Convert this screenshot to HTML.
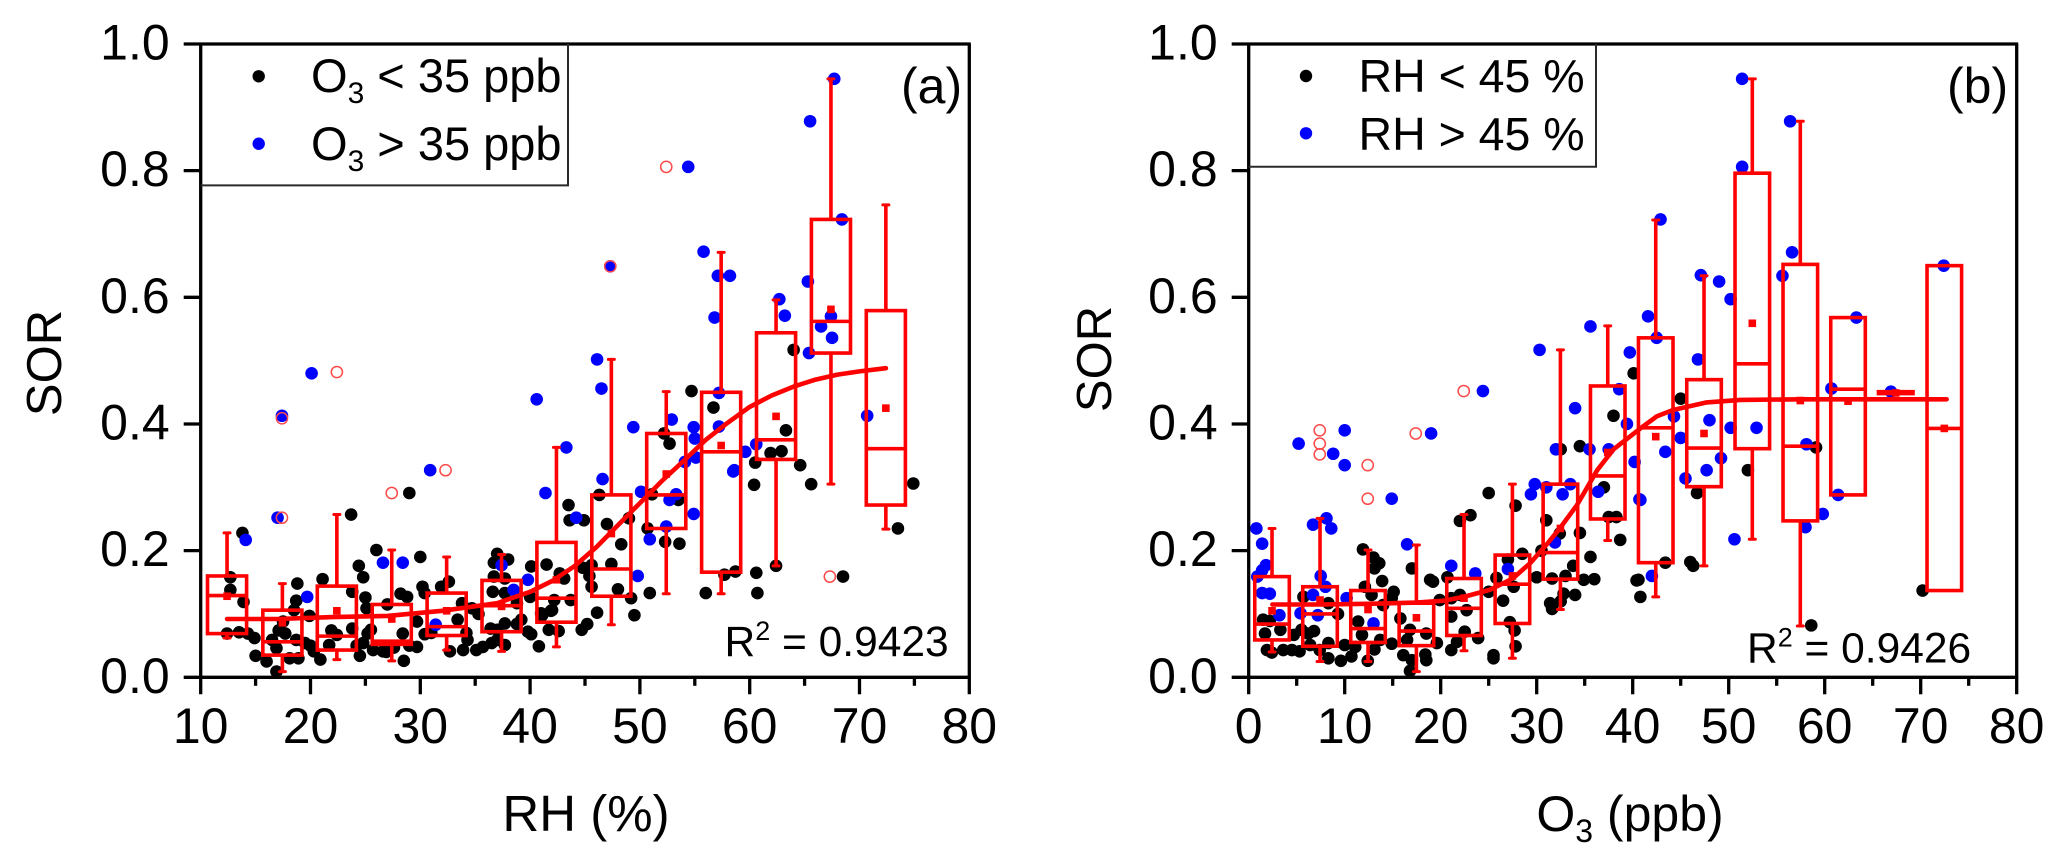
<!DOCTYPE html>
<html lang="en">
<head>
<meta charset="utf-8">
<title>SOR versus RH and O3</title>
<style>
html,body{margin:0;padding:0;background:#fff;}
svg{display:block;font-family:"Liberation Sans",Arial,sans-serif;fill:#000;}
</style>
</head>
<body>
<svg id="chart" xmlns="http://www.w3.org/2000/svg" width="2067" height="868" viewBox="0 0 2067 868">
  <rect x="0" y="0" width="2067" height="868" fill="#fff"/>
  <g id="panel-a"></g>
  <g id="panel-b"></g>

  <g>
    <path d="M200.7 185.4H568V44" fill="none" stroke="#2a2a2a" stroke-width="2"/>
    <circle cx="258.7" cy="76.3" r="6.2" fill="#000"/>
    <circle cx="258.7" cy="143.7" r="6.2" fill="#0000ff"/>
    <text x="311" y="92" font-size="47">O<tspan dy="11" font-size="30">3</tspan><tspan dy="-11"> &lt; 35 ppb</tspan></text>
    <text x="311" y="160" font-size="47">O<tspan dy="11" font-size="30">3</tspan><tspan dy="-11"> &gt; 35 ppb</tspan></text>
  </g>
  <text x="901" y="103" font-size="50">(a)</text>
  <text x="724.5" y="656" font-size="42.5">R<tspan dy="-16" font-size="27">2</tspan><tspan dy="16"> = 0.9423</tspan></text>
  <text transform="translate(61 363) rotate(-90)" text-anchor="middle" font-size="49">SOR</text>
  <text x="586" y="831" text-anchor="middle" font-size="51">RH (%)</text>

  <g>
    <path d="M1248.7 166.7H1596V44" fill="none" stroke="#2a2a2a" stroke-width="2"/>
    <circle cx="1306" cy="76" r="6.2" fill="#000"/>
    <circle cx="1306" cy="133.3" r="6.2" fill="#0000ff"/>
    <text x="1358.5" y="92" font-size="46.5">RH &lt; 45 %</text>
    <text x="1358.5" y="150" font-size="46.5">RH &gt; 45 %</text>
  </g>
  <text x="1947" y="103" font-size="50">(b)</text>
  <text x="1747" y="662.7" font-size="42.5">R<tspan dy="-16" font-size="27">2</tspan><tspan dy="16"> = 0.9426</tspan></text>
  <text transform="translate(1111 359) rotate(-90)" text-anchor="middle" font-size="49">SOR</text>
  <text x="1630" y="831" text-anchor="middle" font-size="50">O<tspan dy="11" font-size="32">3</tspan><tspan dy="-11"> (ppb)</tspan></text>
</svg>

<script>
// ---------- shared axis labels ----------
const yTickValues = [0, 0.2, 0.4, 0.6, 0.8, 1.0];
const yTickLabels = ['0.0', '0.2', '0.4', '0.6', '0.8', '1.0'];
const xTickValuesA = [10, 20, 30, 40, 50, 60, 70, 80];
const xMinorValuesA = [15, 25, 35, 45, 55, 65, 75];
const xTickValuesB = [0, 10, 20, 30, 40, 50, 60, 70, 80];
const xMinorValuesB = [5, 15, 25, 35, 45, 55, 65, 75];

// ---------- panel (a): SOR vs RH ----------
const aLowPoints = [[13.8,.228],[12.7,.158],[12.7,.138],[13.9,.119],[12.4,.069],[13.5,.071],[14.3,.069],[14.9,.062],[15.0,.034],[16.0,.025],[16.5,.059],[16.9,.046],[16.9,.009],[17.1,.074],[17.7,.069],[17.5,.088],[18.5,.106],[18.7,.121],[18.8,.148],[18.7,.059],[19.5,.054],[18.9,.03],[18.1,.03],[19.9,.097],[20.3,.041],[20.9,.028],[21.1,.155],[21.9,.074],[22.4,.067],[21.7,.051],[23.8,.077],[23.8,.135],[23.7,.257],[24.4,.176],[24.8,.158],[25.0,.126],[25.1,.109],[26.0,.201],[25.2,.069],[24.8,.054],[24.5,.034],[25.7,.043],[26.6,.041],[27.0,.115],[28.2,.132],[28.8,.127],[28.5,.026],[28.4,.069],[29.7,.048],[30.2,.143],[30.0,.19],[30.4,.133],[29.7,.088],[30.4,.068],[31.9,.143],[32.6,.151],[32.7,.041],[33.9,.043],[34.3,.059],[34.7,.109],[33.8,.117],[33.4,.091],[35.1,.043],[35.7,.048],[36.5,.054],[37.0,.059],[37.7,.051],[36.4,.077],[37.0,.075],[37.7,.085],[38.8,.084],[39.2,.091],[36.6,.135],[37.7,.133],[36.7,.159],[37.7,.156],[36.7,.181],[37.0,.195],[38.0,.186],[38.8,.117],[40.0,.127],[39.8,.072],[40.1,.068],[40.8,.049],[40.1,.175],[41.5,.178],[41.7,.075],[41.1,.098],[41.9,.105],[20.0,.05],[24.2,.05],[26.9,.04],[25.5,.075],[27.6,.047],[29.0,.05],[31.0,.07],[34.2,.07],[35.3,.1],[43.5,.272],[43.6,.248],[44.9,.248],[42.7,.164],[43.1,.156],[42.2,.122],[43.7,.122],[41.0,.101],[42.0,.106],[42.6,.073],[44.7,.075],[45.2,.084],[46.1,.102],[44.8,.173],[45.6,.177],[45.4,.16],[45.6,.143],[47.4,.179],[48.0,.139],[49.2,.125],[49.5,.098],[50.9,.133],[47.0,.242],[49.0,.251],[48.3,.21],[46.3,.288],[51.1,.289],[53.5,.28],[50.7,.235],[52.3,.214],[53.6,.211],[56.0,.133],[57.7,.162],[58.7,.167],[60.6,.165],[60.7,.133],[62.4,.176],[60.4,.304],[65.6,.305],[68.5,.159],[73.5,.235],[74.9,.306],[54.7,.452],[56.7,.426],[52.2,.385],[52.7,.369],[64.0,.517],[63.3,.39],[61.9,.354],[62.9,.357],[60.5,.339],[64.6,.335],[29.0,.291]];
const aHighPoints = [[14.1,.217],[17.0,.252],[19.7,.127],[26.6,.181],[28.4,.181],[31.4,.083],[37.4,.177],[38.5,.138],[39.8,.154],[41.4,.291],[44.2,.252],[50.1,.293],[52.7,.28],[53.3,.289],[52.4,.238],[54.9,.258],[50.9,.218],[49.8,.16],[58.5,.325],[46.1,.502],[46.5,.456],[40.6,.439],[43.3,.363],[49.4,.395],[46.6,.313],[52.9,.407],[54.9,.395],[55.0,.377],[57.2,.396],[57.2,.449],[54.1,.34],[55.1,.347],[59.6,.356],[58.6,.327],[56.8,.568],[54.4,.806],[55.8,.672],[57.1,.634],[58.2,.634],[47.3,.649],[62.7,.597],[63.2,.571],[65.3,.625],[67.4,.57],[68.4,.723],[66.5,.554],[67.5,.536],[65.4,.512],[60.6,.368],[70.7,.413],[67.7,.945],[65.5,.878],[20.1,.48],[17.4,.413],[30.9,.327]];
const aOutlierPoints = [[22.4,.482],[17.4,.409],[17.4,.252],[27.4,.291],[32.3,.327],[52.4,.806],[47.3,.649],[67.3,.159]];
const aBoxX = [12.4, 17.44, 22.4, 27.4, 32.4, 37.4, 42.4, 47.4, 52.4, 57.4, 62.4, 67.4, 72.4];
const aBoxQ1 = [.069, .035, .043, .052, .066, .072, .087, .128, .235, .166, .344, .512, .272];
const aBoxMedian = [.129, .056, .065, .057, .08, .113, .125, .171, .288, .356, .375, .562, .361];
const aBoxQ3 = [.16, .106, .144, .115, .133, .153, .213, .288, .385, .45, .544, .723, .579];
const aBoxMean = [.128, .086, .105, .092, .105, .112, .154, .227, .321, .366, .412, .581, .425];
const aWhiskerLow = [.062, .009, .028, .026, .043, .041, .048, .083, .132, .132, .176, .305, .234];
const aWhiskerHigh = [.228, .148, .257, .201, .19, .194, .363, .502, .451, .671, .596, .945, .746];
const aFitX = [12.4, 17, 22, 27, 32, 37, 40, 42, 44, 46, 48, 50, 52, 54, 56, 58, 60, 62, 64, 66, 68, 70, 72.4];
const aFitY = [.092, .092, .095, .097, .105, .117, .135, .152, .175, .205, .24, .275, .31, .342, .375, .402, .427, .445, .459, .47, .478, .483, .488];

// ---------- panel (b): SOR vs O3 ----------
const bLowPoints = [[1.5,.091],[2.2,.089],[1.7,.069],[3.3,.075],[1.9,.043],[2.4,.039],[3.6,.043],[4.5,.043],[5.3,.041],[4.7,.067],[5.5,.075],[6.2,.069],[6.8,.073],[6.4,.051],[5.7,.127],[8.3,.117],[9.3,.1],[8.3,.054],[10.0,.051],[11.1,.048],[10.7,.033],[9.6,.026],[8.3,.03],[7.4,.043],[11.4,.088],[11.8,.067],[12.1,.143],[12.8,.13],[13.0,.189],[13.6,.18],[13.1,.172],[11.9,.202],[13.9,.152],[15.1,.135],[14.0,.114],[14.9,.125],[13.7,.059],[13.1,.044],[12.4,.026],[14.9,.053],[17.0,.172],[15.8,.093],[16.8,.075],[18.5,.069],[16.5,.059],[16.1,.035],[17.0,.027],[18.5,.027],[19.6,.054],[18.4,.036],[16.8,.01],[18.9,.154],[19.2,.151],[20.7,.158],[19.9,.122],[21.1,.125],[22.0,.13],[21.1,.096],[22.7,.106],[21.7,.056],[21.1,.043],[22.5,.072],[23.9,.062],[25.0,.135],[25.8,.157],[27.0,.186],[27.6,.143],[26.5,.121],[27.2,.087],[27.7,.074],[27.8,.049],[25.5,.035],[25.5,.03],[22.0,.247],[23.1,.256],[25.0,.291],[27.8,.271],[28.5,.195],[31.0,.248],[32.4,.227],[34.5,.228],[30.0,.158],[31.6,.156],[33.8,.176],[34.9,.154],[32.8,.132],[31.4,.117],[31.6,.108],[38.7,.217],[37.5,.253],[38.3,.253],[40.4,.153],[40.8,.127],[45.0,.44],[59.1,.363],[52.0,.327],[46.7,.291],[43.4,.181],[46.0,.182],[46.3,.176],[70.2,.137],[58.6,.082],[40.6,.154],[40.1,.48],[38.0,.413],[34.5,.365],[32.5,.36],[37.0,.3],[36.0,.155],[35.6,.19],[33.0,.16],[34.0,.13],[30.5,.2],[32.5,.12]];
const bHighPoints = [[.8,.235],[1.4,.211],[1.8,.177],[1.4,.169],[.9,.159],[1.4,.133],[2.2,.132],[3.2,.098],[6.7,.241],[8.1,.251],[8.6,.235],[7.5,.16],[8.0,.143],[6.7,.13],[7.2,.098],[5.4,.101],[10.2,.125],[13.0,.085],[14.9,.282],[16.5,.21],[21.1,.176],[23.6,.164],[27.0,.171],[29.4,.289],[29.8,.305],[31.9,.213],[32.7,.289],[33.5,.305],[36.4,.293],[40.7,.281],[42.0,.16],[5.2,.369],[10.0,.39],[8.8,.353],[10.0,.335],[19.0,.385],[24.4,.452],[30.3,.517],[42.9,.723],[41.6,.57],[42.5,.536],[47.1,.635],[49.0,.625],[50.2,.597],[46.8,.502],[56.6,.671],[55.6,.634],[63.3,.568],[60.7,.456],[66.9,.451],[72.4,.65],[44.3,.412],[48.0,.406],[50.2,.394],[52.9,.394],[45.0,.378],[43.4,.356],[49.2,.346],[47.7,.327],[45.5,.314],[40.8,.28],[58.1,.368],[61.4,.288],[59.8,.258],[58.0,.237],[50.6,.218],[51.4,.945],[51.4,.806],[56.4,.878],[35.6,.554],[34.0,.425],[39.7,.513],[38.6,.455],[39.4,.4],[35.5,.36],[32.0,.36],[31.0,.3],[37.5,.36],[40.2,.34]];
const bOutlierPoints = [[7.4,.39],[7.4,.369],[7.4,.352],[12.4,.335],[12.4,.282],[17.4,.385],[22.4,.452]];
const bBoxX = [2.43, 7.43, 12.43, 17.47, 22.43, 27.47, 32.47, 37.4, 42.4, 47.43, 52.46, 57.46, 62.43, 67.4, 72.46];
const bBoxQ1 = [.059, .049, .055, .05, .066, .085, .155, .25, .181, .301, .361, .247, .288, .448, .137];
const bBoxMedian = [.084, .1, .077, .073, .109, .147, .197, .318, .394, .362, .495, .365, .455, .45, .393];
const bBoxQ3 = [.159, .143, .137, .117, .156, .193, .305, .46, .536, .47, .796, .652, .568, .451, .65];
const bBoxMean = [.105, .122, .107, .094, .125, .16, .235, .355, .38, .385, .559, .437, .436, .449, .393];
const bWhiskerLow = [.04, .025, .025, .009, .042, .03, .107, .216, .127, .176, .218, .081, null, null, null];
const bWhiskerHigh = [.235, .251, .201, .209, .257, .305, .517, .555, .722, .634, .945, .878, null, null, null];
const bFitX = [2.47, 7.4, 12.4, 17.5, 20.3, 22.4, 25.1, 27.5, 29.3, 31, 32.4, 34.2, 36.3, 38, 40.8, 42.5, 44.2, 47.7, 51.2, 57.4, 65, 72.7];
const bFitY = [.115, .115, .116, .118, .121, .127, .138, .156, .18, .209, .235, .272, .327, .36, .393, .412, .422, .434, .438, .439, .439, .439];

// ---------- axis functions ----------
const yScale = v => 677.3 - v * 633.3;
const xScaleA = v => 200.7 + (v - 10) * 10.98;
const xScaleB = v => 1248.7 + v * 9.6;

const SVG_NS = 'http://www.w3.org/2000/svg';
const RED = '#ff0000';
const BOX_STROKE = 3.6;
const AXIS_STROKE = 3.3;
const POINT_RADIUS = 6.3;

function make(parent, tag, attrs) {
  const el = document.createElementNS(SVG_NS, tag);
  for (const k in attrs) el.setAttribute(k, attrs[k]);
  parent.appendChild(el);
  return el;
}

function drawLine(parent, x1, y1, x2, y2, color, width, label, cap) {
  const el = make(parent, 'line', {x1, y1, x2, y2, stroke: color, 'stroke-width': width, 'stroke-linecap': cap || 'butt'});
  
  
  return el;
}

function drawAxes(parent, xScale, left, right, majors, minors, tag) {
  const top = yScale(1);
  const base = yScale(0);
  drawLine(parent, left, top, left, base + 17, '#000', AXIS_STROKE, 'y-axis-line-' + tag);
  drawLine(parent, left - 17, base, right + 1.5, base, '#000', AXIS_STROKE, 'x-axis-line-' + tag);
  drawLine(parent, left - 17, top, right + 1.5, top, '#000', AXIS_STROKE, 'top-border-' + tag);
  drawLine(parent, right, top, right, base + 17, '#000', AXIS_STROKE, 'right-border-' + tag);
  yTickValues.forEach((v, i) => {
    if (v > 0 && v < 1) drawLine(parent, left - 17, yScale(v), left, yScale(v), '#000', AXIS_STROKE, 'y-tick-' + tag);
    const t = make(parent, 'text', {x: left - 31, y: yScale(v) + 15.5, 'text-anchor': 'end', 'font-size': 50});
    
    
    t.textContent = yTickLabels[i];
  });
  majors.forEach(v => {
    if (xScale(v) !== left && xScale(v) !== right) drawLine(parent, xScale(v), base, xScale(v), base + 17, '#000', AXIS_STROKE, 'x-tick-' + tag);
    const t = make(parent, 'text', {x: xScale(v), y: 743, 'text-anchor': 'middle', 'font-size': 50});
    
    
    t.textContent = String(v);
  });
  minors.forEach(v => {
    drawLine(parent, xScale(v), base, xScale(v), base + 8.5, '#000', AXIS_STROKE, 'x-minor-tick-' + tag);
  });
}

function drawScatter(parent, points, xScale, color, label) {
  points.forEach(p => {
    const c = make(parent, 'circle', {cx: xScale(p[0]), cy: yScale(p[1]), r: POINT_RADIUS, fill: color});
    
    
  });
}

function drawOutliers(parent, points, xScale, label) {
  points.forEach(p => {
    const c = make(parent, 'circle', {cx: xScale(p[0]), cy: yScale(p[1]), r: 5.6, fill: 'none', stroke: '#ff4a4a', 'stroke-width': 1.5});
    
    
  });
}

function drawBoxes(parent, xScale, xs, q1, med, q3, mean, low, high, halfWidth, tag) {
  xs.forEach((x, i) => {
    const cx = xScale(x);
    const l = xScale(x - halfWidth);
    const r = xScale(x + halfWidth);
    const g = make(parent, 'g', {});
    
    
    if (high[i] !== null) {
      drawLine(g, cx, yScale(q3[i]), cx, yScale(high[i]), RED, BOX_STROKE, 'whisker-high');
      drawLine(g, cx - 3, yScale(high[i]), cx + 3, yScale(high[i]), RED, 3, 'whisker-cap-high', 'round');
    }
    if (low[i] !== null) {
      drawLine(g, cx, yScale(q1[i]), cx, yScale(low[i]), RED, BOX_STROKE, 'whisker-low');
      drawLine(g, cx - 3, yScale(low[i]), cx + 3, yScale(low[i]), RED, 3, 'whisker-cap-low', 'round');
    }
    const rect = make(g, 'rect', {x: l, y: yScale(q3[i]), width: r - l, height: yScale(q1[i]) - yScale(q3[i]), fill: 'none', stroke: RED, 'stroke-width': BOX_STROKE});
    
    
    drawLine(g, l, yScale(med[i]), r, yScale(med[i]), RED, BOX_STROKE, 'box-median');
    const m = make(g, 'rect', {x: cx - 3.8, y: yScale(mean[i]) - 3.8, width: 7.6, height: 7.6, fill: RED});
    
    
  });
}

function drawFit(parent, xScale, xs, ys, label) {
  const pts = xs.map((x, i) => xScale(x).toFixed(1) + ',' + yScale(ys[i]).toFixed(1)).join(' ');
  const line = make(parent, 'polyline', {points: pts, fill: 'none', stroke: RED, 'stroke-width': 4.6, 'stroke-linecap': 'round', 'stroke-linejoin': 'round'});
  
  
}

const panelA = document.getElementById('panel-a');
const panelB = document.getElementById('panel-b');

drawScatter(panelA, aLowPoints, xScaleA, '#000', 'point-o3-low');
drawScatter(panelA, aHighPoints, xScaleA, '#0000ff', 'point-o3-high');
drawOutliers(panelA, aOutlierPoints, xScaleA, 'outlier-a');
drawBoxes(panelA, xScaleA, aBoxX, aBoxQ1, aBoxMedian, aBoxQ3, aBoxMean, aWhiskerLow, aWhiskerHigh, 1.78, 'a');
drawFit(panelA, xScaleA, aFitX, aFitY, 'fit-curve-a');
drawAxes(panelA, xScaleA, xScaleA(10), xScaleA(80), xTickValuesA, xMinorValuesA, 'a');

drawScatter(panelB, bLowPoints, xScaleB, '#000', 'point-rh-low');
drawScatter(panelB, bHighPoints, xScaleB, '#0000ff', 'point-rh-high');
drawOutliers(panelB, bOutlierPoints, xScaleB, 'outlier-b');
drawBoxes(panelB, xScaleB, bBoxX, bBoxQ1, bBoxMedian, bBoxQ3, bBoxMean, bWhiskerLow, bWhiskerHigh, 1.8, 'b');
drawFit(panelB, xScaleB, bFitX, bFitY, 'fit-curve-b');
drawAxes(panelB, xScaleB, xScaleB(0), xScaleB(80), xTickValuesB, xMinorValuesB, 'b');
</script>
</body>
</html>
